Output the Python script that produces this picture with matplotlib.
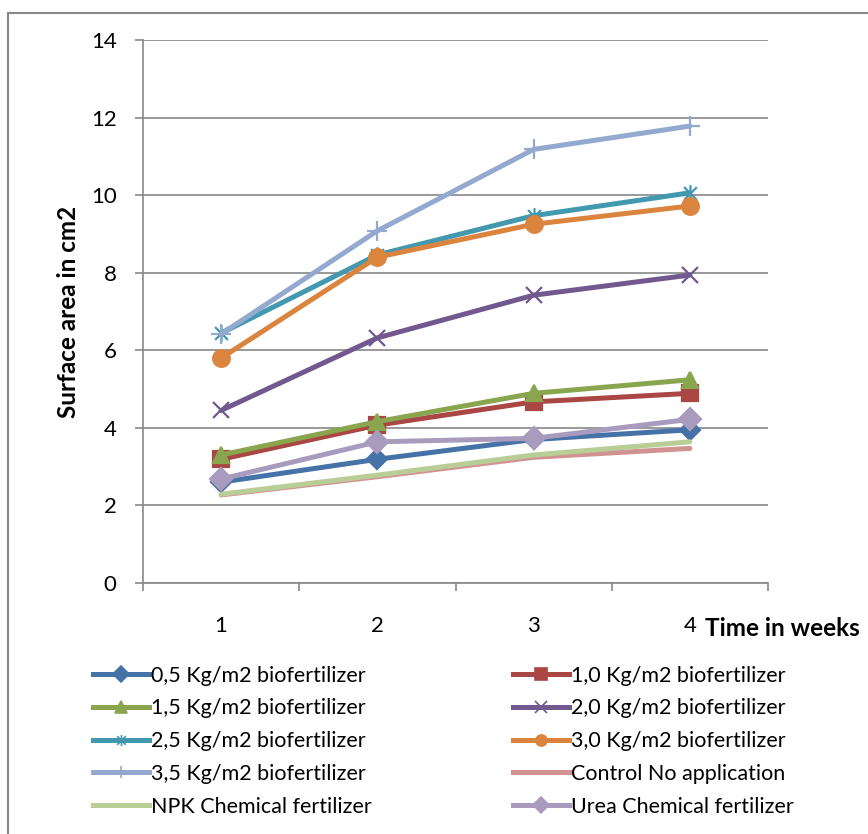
import numpy as np
import matplotlib.pyplot as plt
from matplotlib.lines import Line2D
from matplotlib.path import Path

plt.rcParams['font.family'] = ['Lato', 'DejaVu Sans']

# data
weeks = [1, 2, 3, 4]
series_names = ['0,5 Kg/m2 biofertilizer', '1,0 Kg/m2 biofertilizer',
                '1,5 Kg/m2 biofertilizer', '2,0 Kg/m2 biofertilizer',
                '2,5 Kg/m2 biofertilizer', '3,0 Kg/m2 biofertilizer',
                '3,5 Kg/m2 biofertilizer', 'Control No application',
                'NPK Chemical fertilizer', 'Urea Chemical fertilizer']
bio_05 = [2.60, 3.19, 3.70, 3.95]
bio_10 = [3.19, 4.07, 4.67, 4.89]
bio_15 = [3.30, 4.16, 4.89, 5.24]
bio_20 = [4.45, 6.32, 7.42, 7.94]
bio_25 = [6.44, 8.46, 9.47, 10.06]
bio_30 = [5.80, 8.40, 9.25, 9.72]
bio_35 = [6.42, 9.08, 11.18, 11.78]
control = [2.27, 2.74, 3.24, 3.47]
npk = [2.29, 2.78, 3.30, 3.64]
urea = [2.68, 3.64, 3.73, 4.22]
all_series = [bio_05, bio_10, bio_15, bio_20, bio_25, bio_30, bio_35, control, npk, urea]

# excel "star" marker: an x with a vertical bar through it
star = Path([(-1, -1), (1, 1), (-1, 1), (1, -1), (0, -1.3), (0, 1.3)],
            [Path.MOVETO, Path.LINETO, Path.MOVETO, Path.LINETO, Path.MOVETO, Path.LINETO])

colors = ['#4572A7', '#AA4643', '#89A54E', '#71588F', '#4198AF',
          '#DB843D', '#93A9CF', '#D19392', '#B9CD96', '#A99BBD']
markers = ['D', 's', '^', 'x', star, 'o', '+', None, None, 'D']
msizes = [10, 11, 12, 12, 12, 12, 14, 0, 0, 11]

fig = plt.figure(figsize=(8.68, 8.34), dpi=100)
ax = fig.add_axes([143/868, 1 - 583/834, 625/868, 543/834])

for vals, c, m, ms in zip(all_series, colors, markers, msizes):
    ax.plot(weeks, vals, color=c, lw=3.6, marker=m, ms=ms,
            mec=c, mfc=c, mew=1.6, solid_capstyle='round', clip_on=False)

ax.set_xlim(0.5, 4.5)
ax.set_ylim(0, 14)
ax.set_yticks(np.arange(0, 15, 2))
ax.set_xticks(weeks)
ax.set_xticks([0.5, 1.5, 2.5, 3.5, 4.5], minor=True)
ax.yaxis.grid(True, color='#888888', lw=1.2)
ax.set_axisbelow(True)
for s in ['top', 'right']:
    ax.spines[s].set_visible(False)
for s in ['left', 'bottom']:
    ax.spines[s].set_color('#888888')
    ax.spines[s].set_linewidth(1.2)
ax.tick_params(axis='y', length=6, width=1.2, color='#888888', pad=13, labelsize=16)
ax.tick_params(axis='x', which='major', length=0, pad=24, labelsize=16)
ax.tick_params(axis='x', which='minor', length=6, width=1.2, color='#888888')

fig.text(705/868, 1 - 628/834, 'Time in weeks', fontsize=17.5, fontweight='bold', va='center')
fig.text(68/868, 1 - 312/834, 'Surface area in cm2', fontsize=17.5, fontweight='bold',
         rotation=90, va='center', ha='center')

# legend, two columns filled row by row
handles = []
for c, m in zip(colors, markers):
    ms = 8 if m is not None else 0
    handles.append(Line2D([], [], color=c, lw=3.6, marker=m, ms=ms, mec=c, mfc=c, mew=1.2))
for col, x0 in [(0, 82), (1, 502)]:
    idx = list(range(col, 10, 2))
    fig.legend([handles[i] for i in idx], [series_names[i] for i in idx],
               loc='upper left', bbox_to_anchor=(x0/868, 1 - 655/834),
               frameon=False, fontsize=15.5, handlelength=2.6, handletextpad=0.12,
               labelspacing=0.59, borderpad=0)

# chart frame (only top and left visible in the crop)
fig.add_artist(Line2D([8/868, 8/868], [0, 1 - 13/834], color='#888888', lw=1.5))
fig.add_artist(Line2D([8/868, 1], [1 - 13/834, 1 - 13/834], color='#888888', lw=1.5))

fig.savefig('out.png', dpi=100)
